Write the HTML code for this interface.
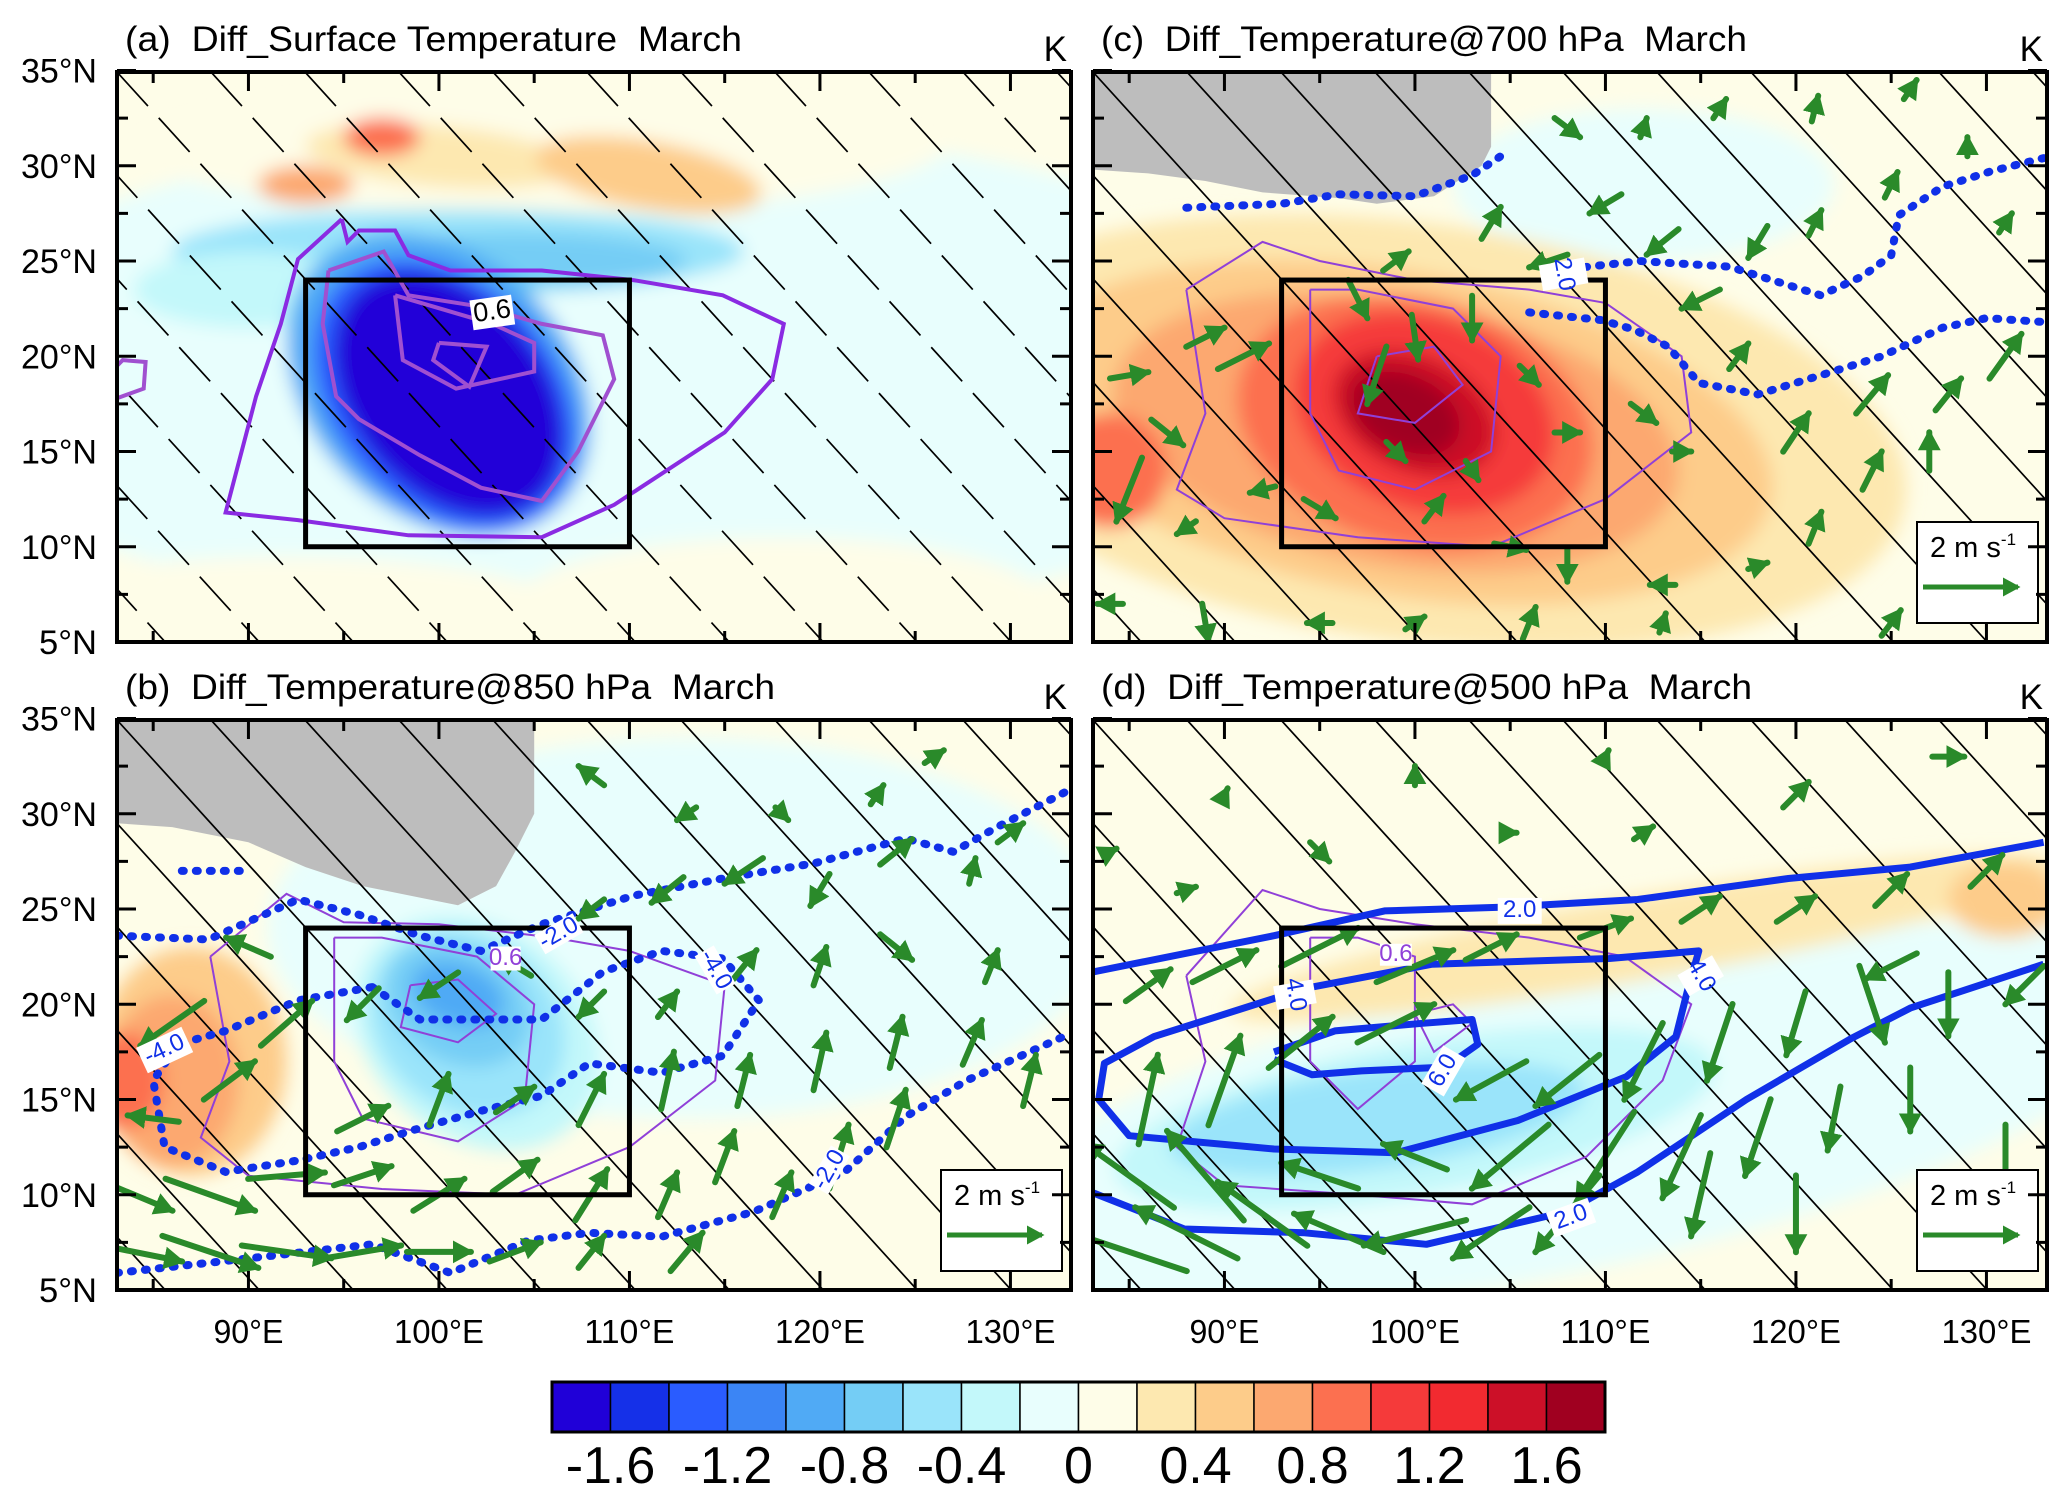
<!DOCTYPE html>
<html><head><meta charset="utf-8">
<style>
html,body{margin:0;padding:0;background:#fff;}
svg{display:block;font-family:"Liberation Sans",Arial,sans-serif;}
</style></head>
<body>
<svg id="fig" xmlns="http://www.w3.org/2000/svg" width="2067" height="1503" viewBox="0 0 2067 1503">
<defs>
<filter id="blur" x="-20%" y="-20%" width="140%" height="140%"><feGaussianBlur stdDeviation="9"/></filter>
<marker id="ah" markerWidth="7" markerHeight="7" refX="3" refY="3" orient="auto" markerUnits="strokeWidth"><path d="M0,1.1 L3.5,3 L0,4.9 Z" fill="#2a8a2a"/></marker>
</defs>
</svg>
<script>
// ---------- colour scale data ----------
const levels=[-1.8,-1.6,-1.4,-1.2,-1.0,-0.8,-0.6,-0.4,-0.2,0,0.2,0.4,0.6,0.8,1.0,1.2,1.4,1.6,1.8];
const colors=['#2000d8','#1530e8','#2a5cff','#3b85f5','#50aaf5','#74cdf5','#9ae4fa','#c3f8fa','#e8fefd','#fefde8','#fde8b0','#fdcc8a','#fca870','#fc7050','#f53a3a','#f22a30','#cc1028','#a00020'];
const cbTicks=['-1.6','-1.2','-0.8','-0.4','0','0.4','0.8','1.2','1.6'];
const latTicks=[5,10,15,20,25,30,35];
const lonTicks=[90,100,110,120,130];

// ---------- field blobs: [lon, lat, rxDeg, ryDeg, rotDeg, colorIndex] ----------
const blobsA=[[110,19,38,13,0,8],[92,6,16,3.5,0,9],[118,7,14,3.5,0,9],[105,31.5,22,4,0,9],[100,30.5,7,1.6,-5,10],[111,29.5,6,1.8,-10,11],[97,31.5,2,1,0,13],[93,29,2.5,1,0,12],[101,25.5,15,2.2,0,6],[104,25,9,1.5,0,5],[90,23.5,6,2,0,7],
[100,18.5,9,6.8,-45,4],[100.3,18,8,5.8,-48,2],[100.5,18,7.2,5,-50,0]];
const blobsC=[[112,29,10,4,0,8],[100,16,26,11,-8,10],[99,16,20,8.5,-10,11],[99,16,15,7,-10,12],[84,14,3,3,0,13],[100,16.5,9.5,6.5,-15,13],[100.5,17,7,5,-20,14],[100,17,4.5,3,-25,16],[99.5,17,3,2,-25,17]];
const blobsB=[[113,24,22,10,0,8],[87,17,5,6,0,11],[86,16,3.5,4.5,0,12],[83.5,16,2,2.5,0,13],[102,18.5,7,5.5,-40,7],[101.5,19,5.5,4.5,-40,6],[101,20,4,3,-30,5],[101,20.5,2.5,1.6,-20,4]];
const blobsD=[[108,14,32,8,12,8],[100,14,16,4,10,7],[98,14,11,2.6,8,6],[112,23.5,22,2.2,10,10],[131,25.5,3,2,0,11]];

// ---------- contours (lon/lat pairs) ----------
const purpleA=[[[94.9,27.2],[92.6,25.1],[91.7,21.7],[90.4,17.9],[88.8,11.8],[92.6,11.4],[98.4,10.6],[105.4,10.5],[109.2,12.2],[115,16],[117.5,18.8],[118.1,21.7],[114.9,23.2],[110.2,24],[105.4,24.5],[100.6,24.5],[98.4,25.3],[97.7,26.6],[95.8,26.6],[95.2,26],[94.9,27.2]],
[[94.2,24.5],[97.1,25.5],[98.4,23.2],[102.2,22.6],[105.4,21.7],[108.6,21.1],[109.2,18.8],[107.3,15],[105.4,12.4],[102.2,13.1],[99,14.8],[95.8,16.7],[94.6,17.9],[93.9,21.7],[94.2,24.5]],
[[97.7,23.2],[98.1,19.8],[100.9,18.3],[105,19.2],[105,20.7],[102.8,21.7],[97.7,23.2]],
[[100,20.7],[102.5,20.5],[101.6,18.4],[99.7,19.8],[100,20.7]],
[[83.1,17.8],[84.5,18.3],[84.6,19.7],[83.4,19.8],[83.1,19.5]]];
const purpleC=[[[88,23.5],[92,26],[95,25],[100,24],[106,23.5],[110,22.8],[114,20],[114.5,16],[110,12.5],[104,10],[97,10.5],[90,11.5],[87.5,13],[89,17],[88,23.5]],
[[94.5,23.5],[97,23.5],[102,22.5],[104.5,20],[104,15],[100,13],[96,14],[94.5,17],[94.5,23.5]],
[[98,20],[101,20.5],[102.5,18.5],[100,16.5],[97,17],[98,20]]];
const purpleB=[[[88,22.5],[92,25.8],[95,24.3],[100,24.2],[106,23.5],[110,22.8],[115,21],[114.5,16],[110,12.5],[104,10],[97,10.3],[90,11],[87.5,13],[89,17],[88,22.5]],
[[94.5,23.5],[97,23.5],[102,22.5],[105,20],[104.5,15],[101,12.8],[96,14],[94.5,17],[94.5,23.5]],
[[98.5,21],[101,21.3],[103,19.5],[101,18],[98,18.8],[98.5,21]]];
const purpleD=[[[88,21.5],[92,26],[95,25],[100,24.2],[106,23.5],[111,22.5],[114.5,20],[113,16],[109,12],[103,9.5],[97,10],[90,10.5],[87.5,12.5],[89,17],[88,21.5]],
[[94.5,23.5],[97,23.5],[100,22.5],[100,17],[97,14.5],[94.5,17],[94.5,23.5]],
[[100,19.5],[102,20],[103,19],[101,17.5],[100,19.5]]];
const dotsC=[[[108.2,24.6],[111.8,25],[116.5,24.7],[121.3,23.2],[123.5,24.2],[125,25.3],[125.4,27.4],[127.7,28.9],[130.2,29.7],[133,30.4]],
[[106,22.3],[109.8,21.9],[111.5,21.4],[113.3,20.5],[114.9,18.6],[118,18],[121.3,19],[124.5,20],[127.7,21.5],[130,22],[133,21.8]],
[[88,27.8],[93,28],[96,28.5],[100,28.4],[103,29.5],[104.5,30.5]]];
const dotsB=[[[83.1,23.6],[87.9,23.4],[92.6,25.5],[95.8,24.7],[99,23.6],[102.2,22.8],[105.4,24.2],[110.2,25.7],[114.9,26.6],[119.7,27.4],[124.5,28.7],[127,28],[129.3,29.3],[133,31.2]],
[[96.5,20.9],[99,19.2],[105.4,19.2],[108.6,21.7],[111.7,22.8],[114.9,22.4],[116.8,20.2],[114.9,17.3],[111.7,16.4],[107.9,16.9],[105.4,15.2],[102.2,14.4],[99,13.5],[95.8,12.5],[92.6,11.8],[88.8,11.2],[85.6,12.5],[85,16],[86.3,17.9],[88.8,18.6],[92.6,20.2],[96.5,20.9]],
[[83.1,5.9],[89.5,6.6],[96.5,7.4],[100.6,5.9],[104.7,7.6],[107.9,8],[111.7,7.8],[116.5,9.1],[121.3,11.2],[124.5,14.1],[127.7,16],[133,18.4]],
[[86.5,27],[90,27]]];
const solidD=[[[83.1,21.7],[92.6,23.6],[98.4,24.9],[104.7,25.1],[111.7,25.5],[119.6,26.6],[126,27.2],[133,28.5]],
[[94.6,20.9],[100.9,22.1],[110.2,22.4],[114.9,22.8],[114.3,20.7],[113.7,18.3],[111.1,16.2],[105.4,13.9],[99,12.2],[92.6,12.4],[85,13.1],[83.4,15],[83.7,16.9],[86.3,18.3],[92.6,20.3],[94.6,20.9]],
[[92.6,17.5],[95.8,18.6],[100.4,19],[103,19.2],[103.3,17.9],[101.6,16.7],[97.2,16.5],[94.6,16.3],[92.6,17.1]],
[[83.1,10.1],[87.9,8.2],[94.2,8],[100.6,7.4],[107.9,9.1],[111.7,11.2],[117.4,15],[122.9,18.2],[126,19.8],[133,22.1]]];
const greyC=[[83.1,35],[104,35],[104,31],[103.5,30],[101,28.4],[98,28],[96,28.3],[92,28.6],[89,29.2],[86,29.6],[83.1,29.8]];
const greyB=[[83.1,35],[105,35],[105,30],[104,28],[103,26.2],[101,25.2],[99,25.6],[96,26.2],[93,27.2],[90,28.5],[86,29.3],[83.1,29.5]];

// ---------- wind vectors: [lon, lat, u, v] (m/s) ----------
const windC=[[85,13,-0.4,-1],[85,19,0.6,0.1],[87,16,0.5,-0.4],[89,21,0.6,0.3],[91,20,0.8,0.4],[88,11,-0.3,-0.2],[92,13,-0.4,-0.1],[95,12,0.5,-0.3],[97,23,0.3,-0.6],[98,19,-0.3,-0.9],[100,21,0.1,-0.7],[103,22,0,-0.7],[99,15,0.3,-0.3],[103,14,0.2,-0.3],[106,19,0.3,-0.3],[108,16,0.4,0],[112,17,0.4,-0.3],[114,15,0.3,0],[101,12,0.3,0.4],[105,10,0.5,-0.1],[108,9,0,-0.5],[113,8,-0.4,0],[118,9,0.3,0.1],[121,11,0.2,0.5],[124,14,0.3,0.6],[127,15,0,0.6],[128,18,0.4,0.5],[131,20,0.5,0.7],[124,18,0.5,0.6],[120,16,0.4,0.6],[117,20,0.3,0.4],[115,23,-0.6,-0.3],[113,26,-0.5,-0.4],[110,28,-0.5,-0.3],[118,26,-0.3,-0.5],[121,27,0.2,0.4],[125,29,0.2,0.4],[129,31,0,0.3],[131,27,0.2,0.3],[108,32,0.4,-0.3],[112,32,0.1,0.3],[116,33,0.2,0.3],[121,33,0.1,0.4],[126,34,0.2,0.3],[99,25,0.4,0.3],[104,27,0.3,0.5],[107,25,-0.6,-0.2],[89,6,0.1,-0.6],[95,6,-0.4,0],[100,6,0.3,0.2],[106,6,0.2,0.5],[113,6,0.1,0.3],[125,6,0.3,0.4],[84,7,-0.4,0]];
const windB=[[84,7,1.5,-0.3],[88,7,1.5,-0.5],[92,7,1.4,-0.2],[96,7,1.2,0.2],[100,7,1.0,0],[104,7,0.8,0.3],[108,7,0.4,0.5],[113,7,0.5,0.6],[84,10,1.2,-0.5],[88,10,1.4,-0.5],[92,11,1.2,0.1],[96,11,0.9,0.3],[100,10,0.8,0.5],[104,11,0.7,0.5],[108,10,0.5,0.8],[112,10,0.3,0.7],[115,12,0.3,0.8],[118,10,0.3,0.7],[121,12,0.3,1],[124,14,0.3,0.9],[85,14,-0.8,0.1],[89,16,0.8,0.6],[92,19,0.8,0.7],[96,14,0.8,0.4],[100,15,0.3,0.8],[104,15,0.6,0.4],[108,15,0.4,0.8],[112,16,0.2,0.9],[116,16,0.2,0.8],[120,17,0.2,0.9],[124,18,0.2,0.8],[128,18,0.3,0.7],[131,16,0.2,0.8],[86,19,-1,-0.7],[90,23,-0.7,0.3],[96,20,-0.5,-0.5],[100,21,-0.6,-0.4],[104,22,-0.5,0.3],[108,20,-0.4,-0.4],[112,20,0.3,0.4],[116,22,0.4,0.5],[120,22,0.2,0.6],[124,23,0.5,-0.4],[129,22,0.2,0.5],[108,25,-0.4,-0.3],[112,26,-0.5,-0.4],[116,27,-0.6,-0.4],[120,26,-0.3,-0.5],[124,28,0.5,0.4],[128,27,0.1,0.4],[113,30,-0.3,-0.2],[118,30,0.2,-0.2],[123,31,0.2,0.3],[130,29,0.4,0.3],[108,32,-0.4,0.3],[126,33,0.3,0.2]];
const windD=[[85,7,-1.8,0.6],[88,8,-1.6,0.8],[92,9,-1.4,1],[96,8,-1.4,0.6],[100,8,-1.6,-0.4],[104,8,-1.2,-0.8],[108,9,-1,-1.2],[85,11,-1.4,1],[89,11,-1.2,1.4],[95,11,-1.2,0.4],[100,12,-1,0.4],[105,12,-1.2,-1],[110,12,-0.9,-1.4],[114,12,-0.6,-1.3],[118,13,-0.4,-1.2],[122,14,-0.2,-1],[126,15,0,-1],[86,15,0.3,1.4],[90,16,0.5,1.4],[94,18,1,0.8],[99,19,1.2,0.6],[104,16,-1.1,-0.6],[108,16,-1,-0.8],[112,17,-0.6,-1.2],[116,18,-0.4,-1.2],[120,19,-0.3,-1],[124,20,0.4,-1.2],[128,20,0,-1],[132,21,-0.6,-0.6],[86,21,0.7,0.5],[90,22,1,0.5],[95,23,1.2,0.6],[100,22,1.2,0.5],[104,23,0.8,0.4],[110,24,0.8,0.3],[115,25,0.6,0.4],[120,25,0.6,0.4],[125,26,0.5,0.5],[130,27,0.5,0.5],[88,26,0.3,0.1],[95,28,0.3,-0.3],[105,29,0.2,0],[112,29,0.3,0.2],[120,31,0.4,0.4],[128,33,0.5,0],[90,31,0.1,0.2],[100,32,0,0.3],[110,33,0.1,0.2],[125,22,-0.8,-0.4],[115,10,-0.3,-1.3],[120,9,0,-1.2],[127,9,0,-1],[131,12,0,-1],[84,28,0.2,0.1]];

// ---------- rendering ----------
const NS='http://www.w3.org/2000/svg';
const svg=document.getElementById('fig');
const LON0=83.1, LAT0=5, DEG=19.05, PW=954, PH=570;
function mk(tag,attrs,parent){const e=document.createElementNS(NS,tag);for(const k in attrs)e.setAttribute(k,attrs[k]);(parent||svg).appendChild(e);return e;}
function makePanel(x0,y0){return {x:lon=>x0+(lon-LON0)*DEG, y:lat=>y0+PH-(lat-LAT0)*DEG, x0:x0, y0:y0};}
function pathOf(P,pts){return pts.map((p,i)=>(i?'L':'M')+P.x(p[0]).toFixed(1)+','+P.y(p[1]).toFixed(1)).join(' ');}

const panels=[
 {id:'a',x0:117,y0:72,title:'(a)  Diff_Surface Temperature  March',tl:617,blobs:blobsA,grey:null,purple:purpleA,dots:[],solid:[],wind:null,legend:false,xlabels:false,ylabels:true},
 {id:'c',x0:1093,y0:72,title:'(c)  Diff_Temperature@700 hPa  March',tl:646,blobs:blobsC,grey:greyC,purple:purpleC,dots:dotsC,solid:[],wind:windC,legend:true,xlabels:false,ylabels:false},
 {id:'b',x0:117,y0:720,title:'(b)  Diff_Temperature@850 hPa  March',tl:650,blobs:blobsB,grey:greyB,purple:purpleB,dots:dotsB,solid:[],wind:windB,legend:true,xlabels:true,ylabels:true},
 {id:'d',x0:1093,y0:720,title:'(d)  Diff_Temperature@500 hPa  March',tl:651,blobs:blobsD,grey:null,purple:purpleD,dots:[],solid:solidD,wind:windD,legend:true,xlabels:true,ylabels:false}
];

panels.forEach(pn=>{
 const P=makePanel(pn.x0,pn.y0);
 const g=mk('g',{});
 
 
 const cp=mk('clipPath',{id:'clip'+pn.id},g);
 mk('rect',{x:pn.x0,y:pn.y0,width:PW,height:PH},cp);
 const inner=mk('g',{'clip-path':'url(#clip'+pn.id+')'},g);
 mk('rect',{x:pn.x0,y:pn.y0,width:PW,height:PH,fill:colors[9]},inner);
 const field=mk('g',{filter:'url(#blur)'},inner);
 
 
 pn.blobs.forEach(b=>{
  const e=mk('ellipse',{cx:P.x(b[0]),cy:P.y(b[1]),rx:b[2]*DEG,ry:b[3]*DEG,fill:colors[b[5]],transform:`rotate(${-b[4]} ${P.x(b[0])} ${P.y(b[1])})`},field);
  
  
 });
 if(pn.grey){const gp=mk('path',{d:pathOf(P,pn.grey)+'Z',fill:'#bdbdbd'},inner);
  
  }
 // hatching
 const hg=mk('g',{stroke:'#000','stroke-width':1.7},inner);
 if(pn.id==='a')hg.setAttribute('stroke-dasharray','46 16');
 
 
 for(let k=-8;k<18;k++){const xs=pn.x0+k*94;mk('line',{x1:xs,y1:pn.y0,x2:xs+PH/1.1,y2:pn.y0+PH},hg);}
 // purple contours
 pn.purple.forEach((c,i)=>{const e=mk('path',{d:pathOf(P,c),fill:'none',stroke:pn.id==='a'?(i===0?'#8a2be2':'#a050d0'):'#9040d8','stroke-width':pn.id==='a'?4:2},inner);
  
  });
 // dotted blue
 pn.dots.forEach(c=>{const e=mk('path',{d:pathOf(P,c),fill:'none',stroke:'#1030e8','stroke-width':8,'stroke-dasharray':'2 12','stroke-linecap':'round'},inner);
  
  });
 pn.solid.forEach(c=>{const e=mk('path',{d:pathOf(P,c),fill:'none',stroke:'#1030e8','stroke-width':7,'stroke-linejoin':'round'},inner);
  
  });
 // winds
 if(pn.wind){const wg=mk('g',{stroke:'#2a8a2a','stroke-width':6,'stroke-linecap':'round'},inner);
  
  
  pn.wind.forEach(w=>{const cx=P.x(w[0]),cy=P.y(w[1]),dx=w[2]*32,dy=-w[3]*32;
   const a=mk('line',{x1:cx-dx,y1:cy-dy,x2:cx+dx,y2:cy+dy,'marker-end':'url(#ah)'},wg);
   
   });}
 // box
 const bx=mk('rect',{x:P.x(93),y:P.y(24),width:P.x(110)-P.x(93),height:P.y(10)-P.y(24),fill:'none',stroke:'#000','stroke-width':5},inner);
 
 
 function clabel(lon,lat,txt,col,rot,fs){const t=mk('text',{x:P.x(lon),y:P.y(lat),'font-size':fs||24,fill:col,'text-anchor':'middle','dominant-baseline':'middle',transform:`rotate(${rot||0} ${P.x(lon)} ${P.y(lat)})`},inner);t.textContent=txt;
  
  }
 function lbg(lon,lat,w,h,rot){mk('rect',{x:P.x(lon)-w/2,y:P.y(lat)-h/2,width:w,height:h,fill:'#fff',transform:`rotate(${rot||0} ${P.x(lon)} ${P.y(lat)})`},inner);}
 if(pn.id==='a'){lbg(102.8,22.3,42,30,-8);clabel(102.8,22.3,'0.6','#000',-8,27);}
 if(pn.id==='c'){lbg(107.8,24.3,26,46,80);clabel(107.8,24.3,'2.0','#1030e8',80);}
 if(pn.id==='b'){lbg(85.6,17.6,50,28,-25);clabel(85.6,17.6,'-4.0','#1030e8',-25);lbg(103.5,22.4,30,24,0);clabel(103.5,22.4,'0.6','#9040d8',0);lbg(106.3,23.7,44,22,-30);clabel(106.3,23.7,'-2.0','#1030e8',-30);lbg(114.5,21.8,44,22,60);clabel(114.5,21.8,'-4.0','#1030e8',60);lbg(120.5,11.3,44,22,-60);clabel(120.5,11.3,'-2.0','#1030e8',-60);}
 if(pn.id==='d'){lbg(105.5,24.9,44,26,0);clabel(105.5,24.9,'2.0','#1030e8',0);lbg(93.7,20.5,24,40,80);clabel(93.7,20.5,'4.0','#1030e8',80);lbg(115,21.5,24,40,60);clabel(115,21.5,'4.0','#1030e8',60);lbg(101.5,16.5,44,26,-60);clabel(101.5,16.5,'6.0','#1030e8',-60);lbg(108.2,8.8,44,26,-20);clabel(108.2,8.8,'2.0','#1030e8',-20);lbg(99,22.6,32,22,0);clabel(99,22.6,'0.6','#9040d8',0);}
 // legend
 if(pn.legend){const lx=pn.x0+PW-130,ly=pn.y0+PH-120;
  const lg=mk('g',{},g);
  
  
  mk('rect',{x:lx,y:ly,width:121,height:101,fill:'#fff',stroke:'#000','stroke-width':2},lg);
  const t=mk('text',{x:lx+13,y:ly+35,'font-size':29},lg);t.innerHTML='2 m s<tspan dy="-12" font-size="17">-1</tspan>';
  mk('line',{x1:lx+6,y1:ly+65,x2:lx+101,y2:ly+65,stroke:'#2a8a2a','stroke-width':5,'marker-end':'url(#ah)'},lg);}
 // frame & ticks
 mk('rect',{x:pn.x0,y:pn.y0,width:PW,height:PH,fill:'none',stroke:'#000','stroke-width':4},g);
 const tg=mk('g',{stroke:'#000','stroke-width':3},g);
 
 
 for(let lon=85;lon<=133;lon+=5){const X=P.x(lon),L=lon%10===0?19:11;
  mk('line',{x1:X,y1:pn.y0,x2:X,y2:pn.y0+L},tg);mk('line',{x1:X,y1:pn.y0+PH,x2:X,y2:pn.y0+PH-L},tg);}
 for(let lat=5;lat<=35;lat+=2.5){const Y=P.y(lat),L=lat%5===0?19:11;
  mk('line',{x1:pn.x0,y1:Y,x2:pn.x0+L,y2:Y},tg);mk('line',{x1:pn.x0+PW,y1:Y,x2:pn.x0+PW-L,y2:Y},tg);}
 if(pn.ylabels){latTicks.forEach(l=>{const t=mk('text',{x:pn.x0-20,y:P.y(l)+12,'font-size':34,'text-anchor':'end',textLength:76,lengthAdjust:'spacingAndGlyphs'},g);t.textContent=l+'°N';
  if(l===5){t.setAttribute('textLength',58);}
  
  });}
 if(pn.xlabels){lonTicks.forEach(l=>{const t=mk('text',{x:P.x(l),y:pn.y0+PH+53,'font-size':33,'text-anchor':'middle',textLength:l>=100?90:70,lengthAdjust:'spacingAndGlyphs'},g);t.textContent=l+'°E';
  
  });}
 const tt=mk('text',{x:pn.x0+8,y:pn.y0-21,'font-size':35,textLength:pn.tl,lengthAdjust:'spacingAndGlyphs'},g);tt.textContent=pn.title;
 
 
 tt.style.whiteSpace='pre';
 const kk=mk('text',{x:pn.x0+PW-4,y:pn.y0-11,'font-size':35,'text-anchor':'end'},g);kk.textContent='K';
 
 
});

// colorbar
const cb=mk('g',{});


const CBX=552,CBW=1053,CBY=1382,CBH=50,bw=CBW/colors.length;
colors.forEach((c,i)=>{const r=mk('rect',{x:CBX+i*bw,y:CBY,width:bw,height:CBH,fill:c,stroke:'#000','stroke-width':1.5},cb);
 
 });
mk('rect',{x:CBX,y:CBY,width:CBW,height:CBH,fill:'none',stroke:'#000','stroke-width':3},cb);
cbTicks.forEach(v=>{const idx=levels.findIndex(l=>Math.abs(l-parseFloat(v))<1e-6);
 const t=mk('text',{x:CBX+idx*bw,y:1483,'font-size':52,'text-anchor':'middle'},cb);t.textContent=v;
 
 });
</script>
</body></html>
